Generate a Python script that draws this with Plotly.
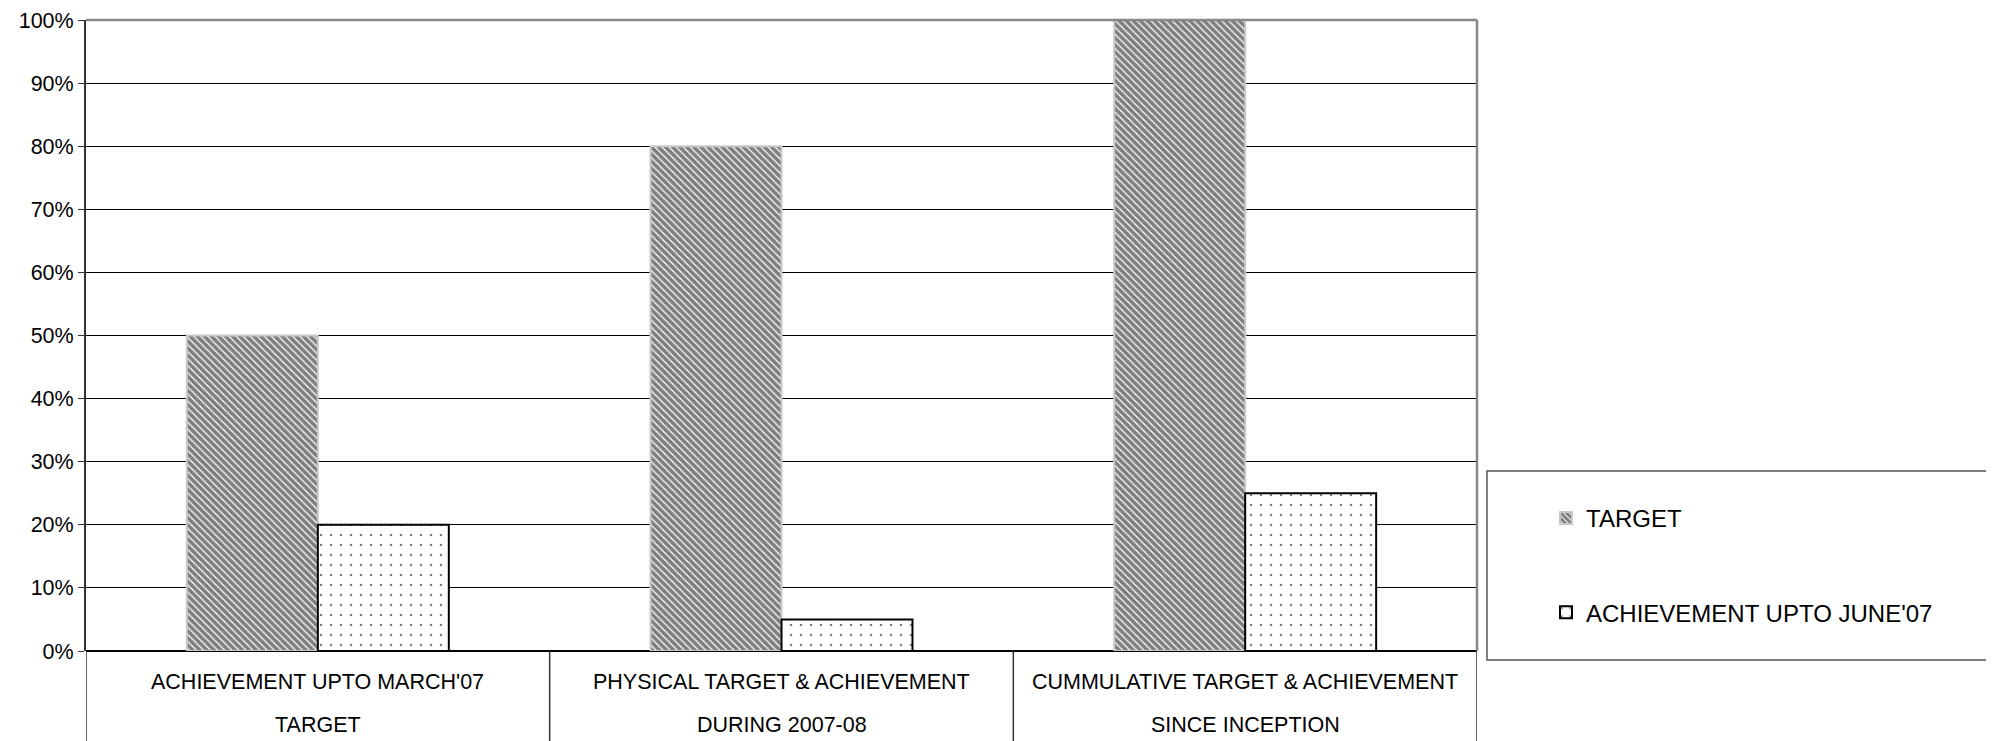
import plotly.graph_objects as go

# Data
categories = ["cat1", "cat2", "cat3"]
label_line1 = ["ACHIEVEMENT UPTO MARCH'07", "PHYSICAL TARGET & ACHIEVEMENT", "CUMMULATIVE TARGET & ACHIEVEMENT"]
label_line2 = ["TARGET", "DURING 2007-08", "SINCE INCEPTION"]
target = [50, 80, 100]
achievement = [20, 5, 25]
tick_vals = [0, 10, 20, 30, 40, 50, 60, 70, 80, 90, 100]
tick_text = [f"{v}%" for v in tick_vals]

W, H = 1994, 741
# page body adds ~8px offset, so margins compensate
PW, PH = 1391, 631
L, T = 78, 12
R = W - L - PW
B = H - T - PH

FONT = "Liberation Sans, Arial"

fig = go.Figure()

fig.add_trace(
    go.Bar(
        x=categories,
        y=target,
        name="TARGET",
        legendgroup="a",
        marker=dict(
            color="white",
            line=dict(color="#c8c8c8", width=2),
            pattern=dict(shape="\\", fgcolor="black", bgcolor="white", size=5, solidity=0.75)
        )
    )
)

fig.add_trace(
    go.Bar(
        x=categories,
        y=achievement,
        name="ACHIEVEMENT UPTO JUNE'07",
        legendgroup="b",
        marker=dict(
            color="white",
            line=dict(color="black", width=2),
            pattern=dict(shape=".", fgcolor="black", bgcolor="white", size=10, solidity=0.05)
        )
    )
)

# Category labels (two lines, wide spacing)
for cat, l1, l2 in zip(categories, label_line1, label_line2):
    fig.add_annotation(x=cat, xref="x", yref="paper", y=(651 - 682) / PH,
                       text=l1, showarrow=False, yanchor="middle",
                       font=dict(size=21.5, color="black", family=FONT))
    fig.add_annotation(x=cat, xref="x", yref="paper", y=(651 - 725) / PH,
                       text=l2, showarrow=False, yanchor="middle",
                       font=dict(size=21.5, color="black", family=FONT))

# Category dividers below the axis
for xv in [-0.5, 0.5, 1.5, 2.5]:
    fig.add_shape(type="line", xref="x", yref="paper", x0=xv, x1=xv,
                  y0=0, y1=-(B + 10) / PH, line=dict(color="#333", width=1.5))

# Plot border top/right
fig.add_shape(type="line", xref="paper", yref="paper", x0=0, x1=1, y0=1, y1=1,
              line=dict(color="#888", width=2.5))
fig.add_shape(type="line", xref="paper", yref="paper", x0=1, x1=1, y0=0, y1=1,
              line=dict(color="#888", width=2.5))

# Legend box
fig.add_shape(type="rect", xref="paper", yref="paper",
              x0=(1487 - 86) / PW, x1=(2020 - 86) / PW,
              y0=(651 - 660) / PH, y1=(651 - 471) / PH,
              line=dict(color="#555", width=1.5), fillcolor="rgba(0,0,0,0)")

fig.update_layout(
    width=W,
    height=H,
    margin=dict(l=L, r=R, t=T, b=B, autoexpand=False),
    plot_bgcolor="white",
    paper_bgcolor="white",
    barmode="group",
    bargap=0.435,
    bargroupgap=0,
    showlegend=True,
    legend=dict(
        x=(1546 - 86) / PW,
        y=(651 - 496) / PH,
        xanchor="left",
        yanchor="top",
        bgcolor="rgba(0,0,0,0)",
        font=dict(size=24, color="black", family="Liberation Sans Narrow, Arial Narrow, Liberation Sans"),
        tracegroupgap=60,
        traceorder="grouped",
        itemwidth=30,
    ),
    xaxis=dict(
        range=[-0.5, 2.5],
        showticklabels=False,
        showgrid=False,
        ticks="",
        showline=False,
        zeroline=False,
        automargin=False,
    ),
    yaxis=dict(
        range=[0, 100],
        tickvals=tick_vals,
        ticktext=tick_text,
        ticks="outside",
        ticklen=6,
        tickcolor="#333",
        showgrid=True,
        gridcolor="black",
        gridwidth=1,
        showline=True,
        linecolor="#333",
        linewidth=2,
        zeroline=True,
        zerolinecolor="black",
        zerolinewidth=2,
        automargin=False,
        tickfont=dict(size=21.5, color="black", family=FONT),
    ),
)

fig.write_html("out.html")
